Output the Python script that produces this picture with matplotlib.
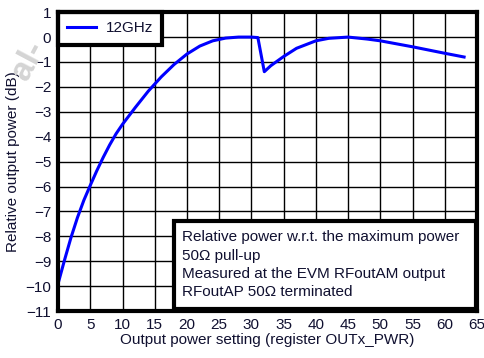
import matplotlib

matplotlib.use('Agg')
import matplotlib.pyplot as plt
from matplotlib.patches import Rectangle

plt.rcParams['font.family'] = ['Liberation Sans', 'DejaVu Sans']

# power setting vs relative output power (dB)
setting = [0, 1, 2, 3, 4, 5, 6, 7, 8, 9, 10, 12, 14, 16, 18, 20, 22, 24, 26,
           28, 30, 31, 32, 33, 35, 37, 40, 42, 45, 48, 50, 55, 60, 63]
rel_power = [-9.9, -8.95, -8.05, -7.25, -6.55, -5.95, -5.37, -4.83, -4.33,
             -3.88, -3.5, -2.82, -2.17, -1.6, -1.1, -0.68, -0.36, -0.15,
             -0.04, 0.0, 0.0, -0.02, -1.39, -1.15, -0.78, -0.45, -0.15,
             -0.05, 0.0, -0.08, -0.15, -0.39, -0.65, -0.8]
series_name = '12GHz'
x_ticks = list(range(0, 66, 5))
y_ticks = list(range(-11, 2))
note_lines = ['Relative power w.r.t. the maximum power',
              '50\u03a9 pull-up',
              'Measured at the EVM RFoutAM output',
              'RFoutAP 50\u03a9 terminated']

txt = '#101030'

fig = plt.figure(figsize=(4.84, 3.58), dpi=100)
ax = fig.add_axes([0.120, 0.131, 0.8655, 0.835])

ax.plot(setting, rel_power, color='#0000ff', linewidth=2.2, label=series_name, zorder=5)

ax.set_xlim(0, 65)
ax.set_ylim(-11, 1)
ax.set_xticks(x_ticks)
ax.set_yticks(y_ticks)
ax.grid(True, color='black', linewidth=1)
ax.tick_params(length=0, labelsize=11, labelcolor=txt, pad=5)
for spine in ax.spines.values():
    spine.set_linewidth(3)
    spine.set_zorder(12)

ax.set_xlabel('Output power setting (register OUTx_PWR)', fontsize=11, color=txt, labelpad=1)
ax.set_ylabel('Relative output power (dB)', fontsize=11, color=txt, labelpad=4)

leg = ax.legend(loc='upper left', bbox_to_anchor=(0, 1), borderaxespad=0,
                fancybox=False, framealpha=1, edgecolor='black', fontsize=11,
                handlelength=1.9, handletextpad=0.6, borderpad=0.6, labelcolor=txt)
leg.get_frame().set_linewidth(3)

# note box in the lower right corner
ax.add_patch(Rectangle((0.277, 0.006), 0.72, 0.295, transform=ax.transAxes,
                       facecolor='white', edgecolor='black', linewidth=3, zorder=10))
ax.text(0.297, 0.27, '\n'.join(note_lines), transform=ax.transAxes,
        fontsize=11, color=txt, va='top', ha='left', linespacing=1.38, zorder=11)

# faint watermark fragment at the left edge
fig.text(0.06, 0.83, 'al-', fontsize=24, color='#d4d4d4', rotation=62,
         ha='center', va='center', fontweight='bold', zorder=0)

fig.savefig('out.png', dpi=100)
